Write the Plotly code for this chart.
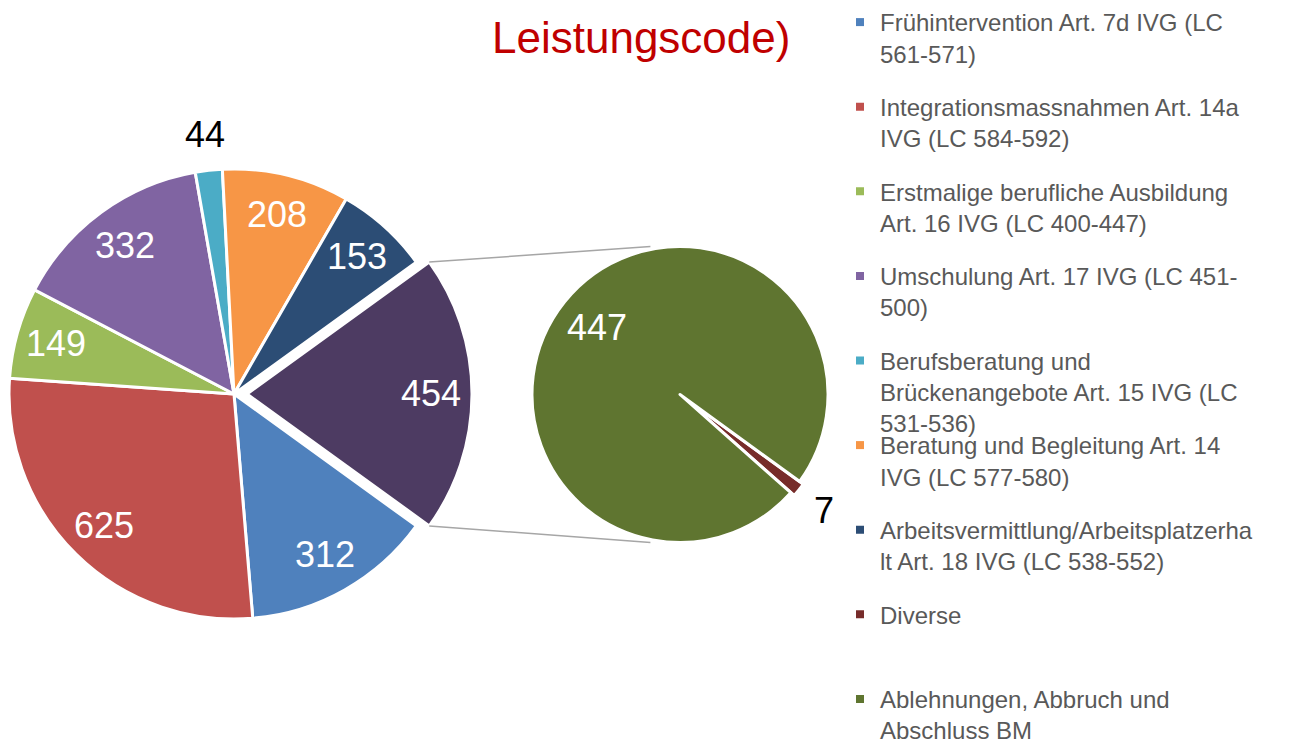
import math
import plotly.graph_objects as go

W, H = 1293, 740
OFF = 8          # the page body adds an 8px margin around the figure
FONT = "Liberation Sans, Arial, sans-serif"

# Legend entries (line breaks as in the original legend)
categories = [
    "Frühintervention Art. 7d IVG (LC<br>561-571)",
    "Integrationsmassnahmen Art. 14a<br>IVG (LC 584-592)",
    "Erstmalige berufliche Ausbildung<br>Art. 16 IVG (LC 400-447)",
    "Umschulung Art. 17 IVG (LC 451-<br>500)",
    "Berufsberatung und<br>Brückenangebote Art. 15 IVG (LC<br>531-536)",
    "Beratung und Begleitung Art. 14<br>IVG (LC 577-580)",
    "Arbeitsvermittlung/Arbeitsplatzerha<br>lt Art. 18 IVG (LC 538-552)",
    "Diverse",
    "Ablehnungen, Abbruch und<br>Abschluss BM",
]
colors = ["#4F81BD", "#C0504D", "#9BBB59", "#8064A2", "#4BACC6",
          "#F79646", "#2C4D75", "#772C2A", "#5F7530"]

# main pie (first 7 categories) + the "other" slice that is split in the second pie
main_values = [312, 625, 149, 332, 44, 208, 153]
detail_values = [7, 447]          # Diverse, Ablehnungen
other_color = "#4D3B62"

other_value = sum(detail_values)
pie_values = main_values + [other_value]
pie_names = [c.replace("<br>", " ") for c in categories[:7]] + ["Weitere"]
detail_names = [c.replace("<br>", " ") for c in categories[7:]]
detail_colors = colors[7:]

total1 = sum(pie_values)
n_main = len(main_values)
CLEAR = "rgba(0,0,0,0)"

# geometry in page pixels
c1x, c1y, r1 = 234, 394, 225
explode_px = 13
rotation1 = 90 + other_value / total1 * 360 / 2   # other slice centred at 3 o'clock

pull_div = 0.03
c2x, c2y, r2 = 680, 394.5, 148
box2 = 2 * r2 * (1 + pull_div)
rotation2 = 126


def px(x, y):
    return (x - OFF) / W, 1 - (y - OFF) / H


def dom(cx, cy, box):
    x0, y1 = px(cx - box / 2, cy - box / 2)
    x1, y0 = px(cx + box / 2, cy + box / 2)
    return dict(x=[x0, x1], y=[y0, y1])


fig = go.Figure()

# main pie without the exploded slice
fig.add_trace(go.Pie(
    values=pie_values, labels=pie_names, sort=False, direction="clockwise",
    rotation=rotation1, domain=dom(c1x, c1y, 2 * r1),
    marker=dict(colors=colors[:n_main] + [CLEAR],
                line=dict(color="white", width=[3] * n_main + [0])),
    textinfo="none", showlegend=False,
))
# exploded "other" slice, same pie shifted to the right
fig.add_trace(go.Pie(
    values=pie_values, labels=pie_names, sort=False, direction="clockwise",
    rotation=rotation1, domain=dom(c1x + explode_px, c1y, 2 * r1),
    marker=dict(colors=[CLEAR] * n_main + [other_color],
                line=dict(color="white", width=[0] * n_main + [3])),
    textinfo="none", showlegend=False, hoverinfo="skip",
))

fig.add_trace(go.Pie(
    values=detail_values, labels=detail_names, sort=False, direction="clockwise",
    rotation=rotation2, domain=dom(c2x, c2y, box2),
    pull=[pull_div, 0],
    marker=dict(colors=detail_colors, line=dict(color="white", width=3)),
    textinfo="none", showlegend=False,
))

annotations = []


def add_labels(values, rotation, centers, r, inside_f, outside_f, small_share):
    total = sum(values)
    cum = 0
    for v, (cx, cy) in zip(values, centers):
        mid = math.radians(rotation + (cum + v / 2) / total * 360)
        cum += v
        small = v / total < small_share
        f = outside_f if small else inside_f
        x, y = px(cx + f * r * math.sin(mid), cy - f * r * math.cos(mid))
        annotations.append(dict(
            x=x, y=y, xref="paper", yref="paper", text=str(v), showarrow=False,
            xanchor="center", yanchor="middle",
            font=dict(size=36, color="black" if small else "white", family=FONT),
        ))


add_labels(pie_values, rotation1,
           [(c1x, c1y)] * n_main + [(c1x + explode_px, c1y)], r1, 0.82, 1.16, 0.03)
add_labels(detail_values, rotation2, [(c2x, c2y)] * 2, r2, 0.72, 1.25, 0.03)

# title (second line visible)
tx, ty = px(641, 37)
annotations.append(dict(
    x=tx, y=ty, xref="paper", yref="paper", text="Leistungscode)", showarrow=False,
    xanchor="center", yanchor="middle",
    font=dict(size=44, color="#C00000", family=FONT),
))

# connector lines between exploded slice and second pie
shapes = []
a_top = math.radians(rotation1 - other_value / total1 * 360)
a_bot = math.radians(rotation1)
ex = c1x + explode_px
for a, sgn in [(a_top, -1), (a_bot, 1)]:
    x0, y0 = px(ex + r1 * math.sin(a), c1y - r1 * math.cos(a))
    x1, y1 = px(c2x - 0.2 * r2, c2y + sgn * r2)
    shapes.append(dict(type="line", xref="paper", yref="paper",
                       x0=x0, y0=y0, x1=x1, y1=y1,
                       line=dict(color="#A6A6A6", width=1.5)))

# chart area border on the right
bx, _ = px(1290, 0)
shapes.append(dict(type="line", xref="paper", yref="paper",
                   x0=bx, x1=bx, y0=0, y1=1,
                   line=dict(color="#D9D9D9", width=1.5)))

# legend: one legend per entry to keep Excel's even spacing
legends = {}
for i, (name, col) in enumerate(zip(categories, colors)):
    key = "legend" if i == 0 else f"legend{i + 1}"
    marker_y = 22 + i * 84.6
    lx, ly = px(880 - 40, marker_y - 22)
    legends[key] = dict(
        x=lx, y=ly, xanchor="left", yanchor="top",
        valign="top", itemwidth=30, bgcolor="rgba(0,0,0,0)",
        font=dict(size=24, color="#595959", family=FONT),
    )
    fig.add_trace(go.Scatter(
        x=[None], y=[None], mode="markers", name=name, legend=key,
        marker=dict(symbol="square", size=8, color=col),
        showlegend=True, hoverinfo="skip",
    ))

fig.update_layout(
    width=W, height=H,
    margin=dict(l=0, r=0, t=0, b=0, autoexpand=False),
    paper_bgcolor="white", plot_bgcolor="white",
    xaxis=dict(visible=False), yaxis=dict(visible=False),
    annotations=annotations, shapes=shapes,
    **legends,
)

fig.write_html("out.html")
